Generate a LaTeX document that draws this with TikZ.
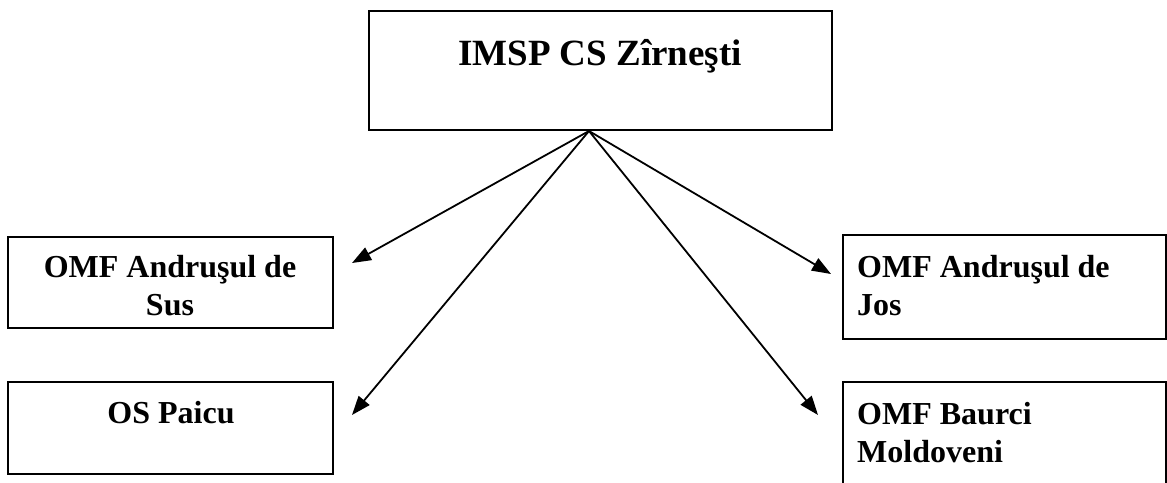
\documentclass[tikz,border=0pt]{standalone}
\usepackage{fontspec}
\setmainfont{Liberation Serif}
\usetikzlibrary{arrows.meta}
\tikzset{
  box/.style={draw=black, line width=2pt, rectangle, inner sep=0pt, fill=none},
  lbl/.style={inner sep=0pt, font=\bfseries\fontsize{32}{38}\selectfont},
  conn/.style={line width=1.8pt, -{Triangle[length=19pt,width=14pt]}}
}
\begin{document}
\begin{tikzpicture}[x=1pt,y=-1pt]
\useasboundingbox (0,0) rectangle (1167,482);
\clip (0,0) rectangle (1167,482);
% boxes
\node[box, minimum width=463pt, minimum height=119pt] (top) at (600.5,70) {};
\node[box, minimum width=325pt, minimum height=91pt] (sus) at (170.5,282.5) {};
\node[box, minimum width=325pt, minimum height=92pt] (paicu) at (170.5,428) {};
\node[box, minimum width=323pt, minimum height=104pt] (jos) at (1004.5,287) {};
\node[box, minimum width=323pt, minimum height=118pt] (baurci) at (1004.5,441) {};
% texts
\node[inner sep=0pt, font=\bfseries\fontsize{37}{44}\selectfont, anchor=base] (ttop) at (600,65) {IMSP CS Zîrneşti};
\node[lbl, align=center, anchor=base] (tsus) at (170,315) {OMF Andruşul de\\Sus};
\node[lbl, anchor=base] (tpaicu) at (171,423) {OS Paicu};
\node[lbl, align=left, anchor=base west] (tjos) at (857,315) {OMF Andruşul de\\Jos};
\node[lbl, align=left, anchor=base west] (tbaurci) at (857,462) {OMF Baurci\\Moldoveni};
% connectors
\coordinate (apex) at (589,131);
\coordinate (tipsus) at (352,263);
\coordinate (tippaicu) at (352,415);
\coordinate (tipjos) at (831,274);
\coordinate (tipbaurci) at (818,415);
\draw[conn] (apex) -- (tipsus);
\draw[conn] (apex) -- (tippaicu);
\draw[conn] (apex) -- (tipjos);
\draw[conn] (apex) -- (tipbaurci);
\end{tikzpicture}
\end{document}
